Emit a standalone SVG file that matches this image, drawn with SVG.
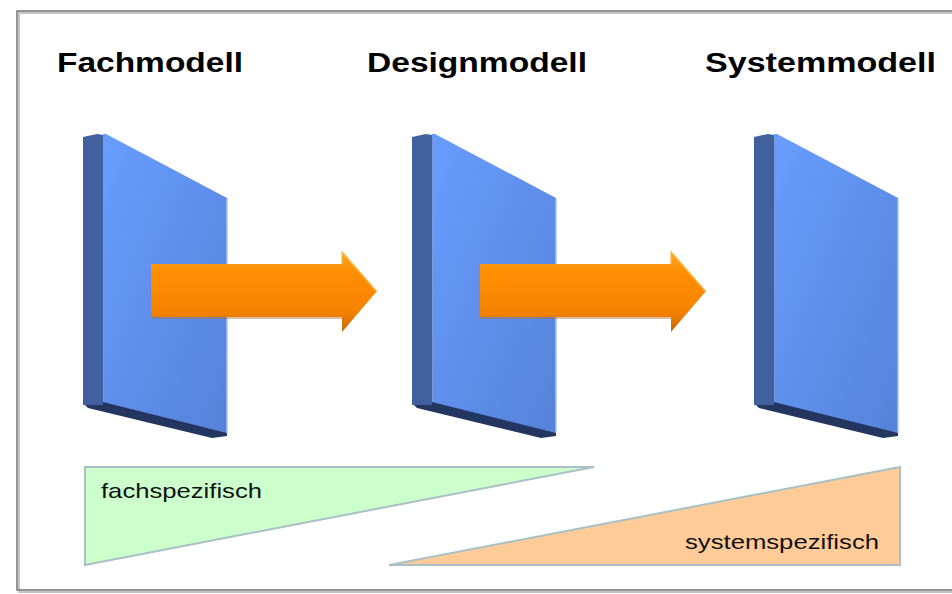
<svg xmlns="http://www.w3.org/2000/svg" width="952" height="594" viewBox="0 0 952 594">
  <style>
    .title { font-family: "Liberation Sans", Arial, sans-serif; font-weight: bold; font-size: 28px; fill: #000; }
    .label { font-family: "Liberation Sans", Arial, sans-serif; font-size: 21px; fill: #111; }
    .side { fill: #41609e; }
    .front { fill: url(#frontGrad); }
    .bottom { fill: #22365f; }
    .hl { stroke: #a9c5ff; stroke-width: 1.5; fill: none; }
    .sidehl { stroke: #7a98d6; stroke-width: 1; fill: none; }
    .arrow { fill: url(#arrowGrad); }
    .arrowedge { fill: none; stroke: #ffb848; stroke-width: 1.2; }
    .tri { stroke: #a9c0c6; stroke-width: 2; }
  </style>
  <defs>
    <linearGradient id="frontGrad" x1="0" y1="0" x2="1" y2="1">
      <stop offset="0" stop-color="#689dff"/>
      <stop offset="1" stop-color="#5682d8"/>
    </linearGradient>
    <linearGradient id="arrowGrad" x1="0" y1="0" x2="0" y2="1">
      <stop offset="0" stop-color="#ffa624"/>
      <stop offset="0.3" stop-color="#ff8c00"/>
      <stop offset="0.75" stop-color="#f58300"/>
      <stop offset="1" stop-color="#c96600"/>
    </linearGradient>
  </defs>

  <rect width="952" height="594" fill="#ffffff"/>

  <!-- frame -->
  <g id="frame">
    <rect x="19" y="13" width="950" height="579" fill="none" stroke="#c4c4c4" stroke-width="2"/>
    <rect x="17" y="11" width="950" height="579" fill="none" stroke="#7a7a7a" stroke-width="1.6"/>
  </g>

  <!-- titles -->
  <g id="title-fach"><text class="title" x="57" y="72" textLength="186" lengthAdjust="spacingAndGlyphs">Fachmodell</text></g>
  <g id="title-design"><text class="title" x="367" y="72" textLength="220" lengthAdjust="spacingAndGlyphs">Designmodell</text></g>
  <g id="title-system"><text class="title" x="705" y="72" textLength="231" lengthAdjust="spacingAndGlyphs">Systemmodell</text></g>

  <!-- panels -->
  <g id="panel-fach">
    <polygon class="bottom" points="85,405 103,401 227,431 227,436 212,438 88,408"/>
    <polygon class="side" points="83,137 97,134 103,135 103,405 83,405"/>
    <polygon class="front" points="103,134 106,134 227,198 227,433 103,402"/>
    <line class="sidehl" x1="103.5" y1="137" x2="103.5" y2="402"/>
    <line class="hl" x1="227" y1="199" x2="227" y2="433"/>
  </g>
  <g id="panel-design" transform="translate(329,0)">
    <polygon class="bottom" points="85,405 103,401 227,431 227,436 212,438 88,408"/>
    <polygon class="side" points="83,137 97,134 103,135 103,405 83,405"/>
    <polygon class="front" points="103,134 106,134 227,198 227,433 103,402"/>
    <line class="sidehl" x1="103.5" y1="137" x2="103.5" y2="402"/>
    <line class="hl" x1="227" y1="199" x2="227" y2="433"/>
  </g>
  <g id="panel-system" transform="translate(671,0)">
    <polygon class="bottom" points="85,405 103,401 227,431 227,436 212,438 88,408"/>
    <polygon class="side" points="83,137 97,134 103,135 103,405 83,405"/>
    <polygon class="front" points="103,134 106,134 227,198 227,433 103,402"/>
    <line class="sidehl" x1="103.5" y1="137" x2="103.5" y2="402"/>
    <line class="hl" x1="227" y1="199" x2="227" y2="433"/>
  </g>

  <!-- connectors -->
  <g id="connectors">
    <g id="arrow-fach-design">
      <path d="M151,318 H342" stroke="#b07040" stroke-opacity="0.45" stroke-width="2" fill="none"/>
      <path class="arrow" d="M151,264 H342 V251 L377,291 L342,332 V317 H151 Z"/>
      <path class="arrowedge" d="M342,264 V252 L376,291"/>
    </g>
    <g id="arrow-design-system" transform="translate(329,0)">
      <path d="M151,318 H342" stroke="#b07040" stroke-opacity="0.45" stroke-width="2" fill="none"/>
      <path class="arrow" d="M151,264 H342 V251 L377,291 L342,332 V317 H151 Z"/>
      <path class="arrowedge" d="M342,264 V252 L376,291"/>
    </g>
  </g>

  <!-- wedges -->
  <g id="wedge-fach">
    <polygon class="tri" points="85,467 594,467 85,565" fill="#ccffcc"/>
    <text class="label" x="101" y="498" textLength="161" lengthAdjust="spacingAndGlyphs">fachspezifisch</text>
  </g>
  <g id="wedge-system">
    <polygon class="tri" points="389,565 900,565 900,467" fill="#ffcc99"/>
    <text class="label" x="685" y="549" textLength="194" lengthAdjust="spacingAndGlyphs">systemspezifisch</text>
  </g>
</svg>
